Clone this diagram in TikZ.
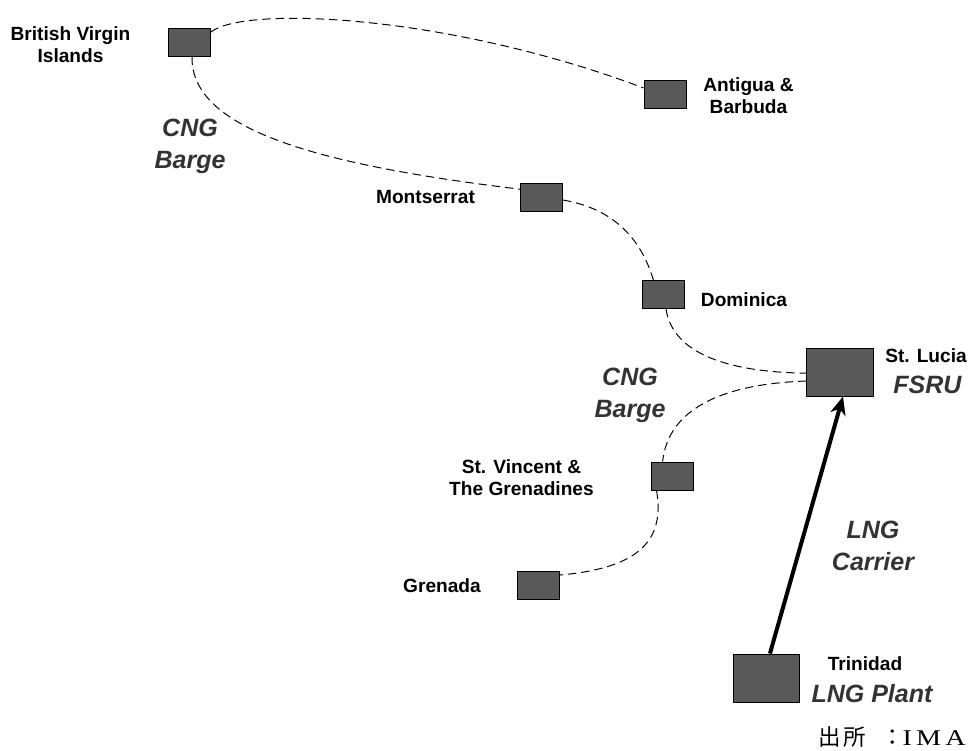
\documentclass[tikz,border=0pt]{standalone}
\usepackage{fontspec}
\setmainfont{Liberation Sans}
\newfontfamily\cjk{Noto Sans CJK JP}
\newfontfamily\imafont[FakeStretch=1.25]{Liberation Serif}
\usetikzlibrary{arrows.meta}

\definecolor{islegrey}{HTML}{595959}
\definecolor{modegrey}{HTML}{333333}

\begin{document}
\begin{tikzpicture}[
  x=0.025cm, y=-0.025cm,
  isle/.style    = {draw, fill=islegrey, line width=0.6pt, inner sep=0pt,
                    minimum width=1.05cm, minimum height=0.7cm},
  hub/.style     = {isle, minimum width=1.66cm, minimum height=1.2cm},
  place/.style   = {font=\bfseries\fontsize{13.6}{15.6}\selectfont, align=center, inner sep=0pt},
  mode/.style    = {font=\bfseries\itshape\fontsize{17.8}{22.8}\selectfont, text=modegrey,
                    align=center, inner sep=0pt},
  barge/.style   = {line width=0.7pt, dash pattern=on 6pt off 3.5pt},
  carrier/.style = {-{Stealth[length=13pt, width=11pt, inset=4pt]}, line width=2.85pt},
]
\useasboundingbox (0,0) rectangle (976,751);

% ---- islands ----------------------------------------------------------------
\node[isle] (bvi) at (189.5,42)  {};
\node[isle] (ant) at (665,94.5)  {};
\node[isle] (mon) at (541.5,197) {};
\node[isle] (dom) at (663.5,294.5) {};
\node[hub]  (stl) at (840,372)   {};
\node[isle] (svg) at (672,476)   {};
\node[isle] (gre) at (538.5,585) {};
\node[hub]  (tri) at (766.5,678) {};

% ---- names ------------------------------------------------------------------
\node[place] (bviL) at (70.5,45) {British Virgin\\Islands};
\node[place] (antL) at (748.5,96) {Antigua \&\\Barbuda};
\node[place, anchor=base] (monL) at (425.5,203) {Montserrat};
\node[place, anchor=base] (domL) at (744,306) {Dominica};
\node[place, anchor=base] (stlL) at (926,362) {St. Lucia};
\node[place] (svgL) at (521.5,477.5) {St. Vincent \&\\The Grenadines};
\node[place, anchor=base] (greL) at (442,592) {Grenada};
\node[place, anchor=base] (triL) at (865,670) {Trinidad};

% ---- transport modes --------------------------------------------------------
\node[mode] (bargeN) at (190,146) {CNG\\Barge};
\node[mode] (bargeS) at (630,395) {CNG\\Barge};
\node[mode, anchor=base] (stlM) at (927.5,393) {FSRU};
\node[mode] (carL) at (873,545.5) {LNG\\Carrier};
\node[mode, anchor=base] (triM) at (872,702) {LNG Plant};

% ---- barge routes -----------------------------------------------------------
\draw[barge] (bvi.25) .. controls (245,5) and (450,15) .. (ant.163);
\draw[barge] (bvi.-80) .. controls (190,130) and (320,165) .. (mon.160);
\draw[barge] (mon.-8) .. controls (610,208) and (640,235) .. (dom.125);
\draw[barge] (dom.-80) .. controls (672,350) and (720,372) .. (stl.182);
\draw[barge] (stl.195) .. controls (720,384) and (668,410) .. (svg.123);
\draw[barge] (svg.-137) .. controls (665,540) and (640,568) .. (gre.25);

% ---- LNG carrier ------------------------------------------------------------
\draw[carrier] (tri.82) -- (stl.-83);

% ---- source -----------------------------------------------------------------
\node[anchor=base west, inner sep=0pt, font=\fontsize{16}{18}\selectfont] (src) at (818,745)
  {{\cjk 出\hspace{2pt}所}\hspace{19pt}\makebox[0pt][c]{\cjk ：}\hspace{7pt}{\imafont I\hspace{3pt}M\hspace{3pt}A}};

\end{tikzpicture}
\end{document}
